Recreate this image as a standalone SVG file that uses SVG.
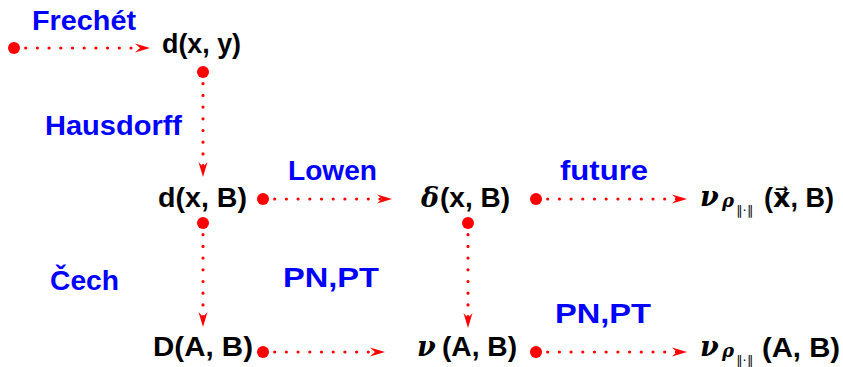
<svg xmlns="http://www.w3.org/2000/svg" width="843" height="367" viewBox="0 0 843 367">
<style>
.lbl{font-family:"Liberation Sans",Arial,sans-serif;font-weight:bold;font-size:28px;fill:#0000ff}
.t{font-family:"Liberation Sans",Arial,sans-serif;font-weight:bold;font-size:27px;fill:#000}
.m{font-family:"DejaVu Serif","Liberation Serif",serif;font-style:italic;font-weight:bold;fill:#000}
.s{font-family:"DejaVu Sans","Liberation Sans",sans-serif;fill:#000}
.c{stroke:#ff0000;stroke-width:3.2;stroke-linecap:round;stroke-dasharray:0 11.7;fill:none}
.dot{fill:#ff0000}
</style>
<defs>
<marker id="ah" viewBox="0 0 15 10" refX="5" refY="5" markerWidth="15" markerHeight="10" markerUnits="userSpaceOnUse" orient="auto">
<path d="M0,0.5 L15,5 L0,9.5 L5,5 Z" fill="#ff0000"/>
</marker>
</defs>
<g id="labels">
<text class="lbl" x="32" y="30" textLength="104" lengthAdjust="spacingAndGlyphs">Frechét</text>
<text class="lbl" x="45" y="135" textLength="137" lengthAdjust="spacingAndGlyphs">Hausdorff</text>
<text class="lbl" x="288" y="180" textLength="89" lengthAdjust="spacingAndGlyphs">Lowen</text>
<text class="lbl" x="560" y="180" textLength="88" lengthAdjust="spacingAndGlyphs">future</text>
<text class="lbl" x="50" y="290" textLength="69" lengthAdjust="spacingAndGlyphs">Čech</text>
<text class="lbl" x="283" y="287" font-size="30" textLength="96" lengthAdjust="spacingAndGlyphs">PN,PT</text>
<text class="lbl" x="555" y="323" font-size="30" textLength="96" lengthAdjust="spacingAndGlyphs">PN,PT</text>
</g>
<g id="connectors">
<line class="c" x1="14" y1="48" x2="140" y2="48" marker-end="url(#ah)"/>
<line class="c" x1="263" y1="199" x2="382" y2="199" marker-end="url(#ah)"/>
<line class="c" x1="536" y1="199" x2="677" y2="199" marker-end="url(#ah)"/>
<line class="c" x1="263" y1="352" x2="375" y2="352" marker-end="url(#ah)"/>
<line class="c" x1="536" y1="352" x2="677" y2="352" marker-end="url(#ah)"/>
<line class="c" x1="203" y1="72" x2="203" y2="167" marker-end="url(#ah)"/>
<line class="c" x1="203" y1="223" x2="203" y2="317" marker-end="url(#ah)"/>
<line class="c" x1="468" y1="223" x2="468" y2="318" marker-end="url(#ah)"/>
<circle class="dot" cx="14" cy="48" r="6"/>
<circle class="dot" cx="203" cy="72" r="6"/>
<circle class="dot" cx="263" cy="199" r="6"/>
<circle class="dot" cx="203" cy="223" r="6"/>
<circle class="dot" cx="536" cy="199" r="6"/>
<circle class="dot" cx="468" cy="223" r="6"/>
<circle class="dot" cx="263" cy="352" r="6"/>
<circle class="dot" cx="536" cy="352" r="6"/>
</g>
<g id="n-dxy"><text class="t" x="162" y="53" textLength="79" lengthAdjust="spacingAndGlyphs">d(x, y)</text></g>
<g id="n-dxB"><text class="t" x="158" y="207" textLength="89" lengthAdjust="spacingAndGlyphs">d(x, B)</text></g>
<g id="n-deltaxB">
<text class="m" x="421" y="207" font-size="27">δ</text>
<text class="t" x="440" y="207" textLength="70" lengthAdjust="spacingAndGlyphs">(x, B)</text>
</g>
<g id="n-nuvecxB">
<text class="m" x="700" y="206" font-size="27">ν</text>
<text class="m" x="722" y="207" font-size="18">ρ</text>
<text class="s" x="736" y="215" font-size="13">∥·∥</text>
<text class="t" x="764" y="207">(<tspan style="font-family:'DejaVu Sans',sans-serif;font-weight:bold">x⃗</tspan>, B)</text>
</g>
<g id="n-DAB"><text class="t" x="153" y="356" textLength="100" lengthAdjust="spacingAndGlyphs">D(A, B)</text></g>
<g id="n-nuAB">
<text class="m" x="417" y="356" font-size="27">ν</text>
<text class="t" x="442" y="356" textLength="75" lengthAdjust="spacingAndGlyphs">(A, B)</text>
</g>
<g id="n-nurhoAB">
<text class="m" x="700" y="356" font-size="27">ν</text>
<text class="m" x="722" y="357" font-size="18">ρ</text>
<text class="s" x="736" y="365" font-size="13">∥·∥</text>
<text class="t" x="762" y="357" textLength="78" lengthAdjust="spacingAndGlyphs">(A, B)</text>
</g>
</svg>
